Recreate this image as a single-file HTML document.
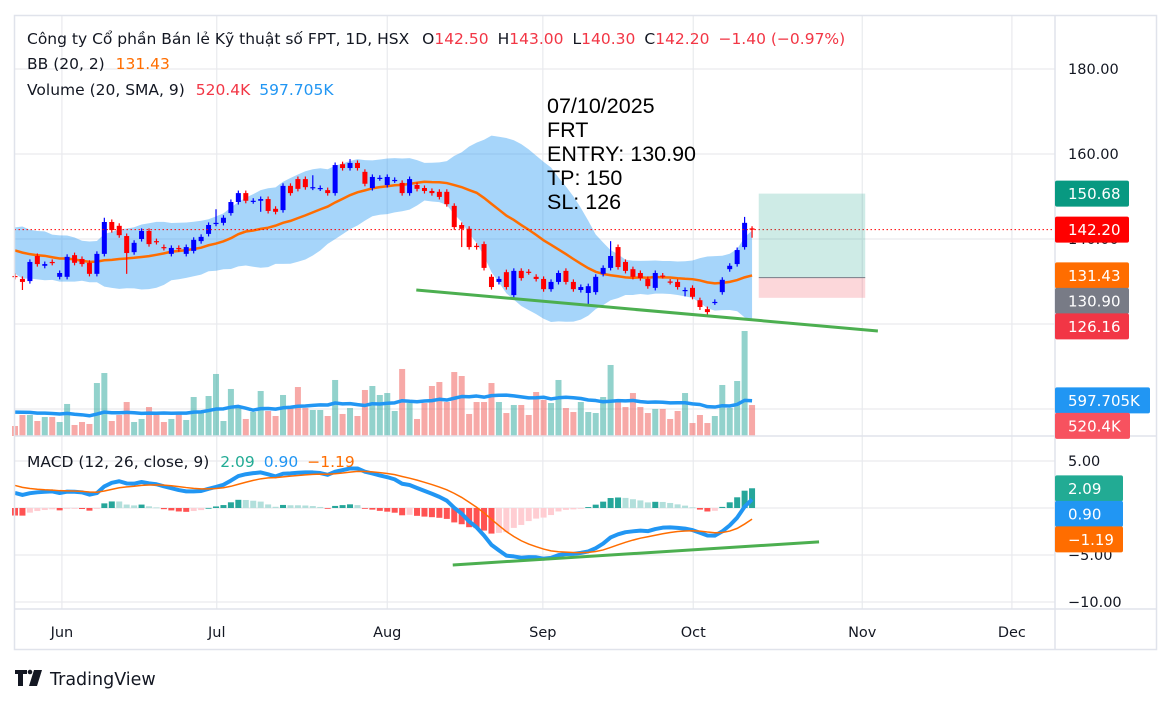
<!DOCTYPE html>
<html><head><meta charset="utf-8"><title>FRT chart</title>
<style>
html,body{margin:0;padding:0;background:#fff;}
svg{display:block;font-family:"DejaVu Sans","Liberation Sans",sans-serif;}
</style></head>
<body>
<svg id="chart" width="1172" height="704" viewBox="0 0 1172 704" xmlns="http://www.w3.org/2000/svg">
<rect x="0" y="0" width="1172" height="704" fill="#fff"/>
<g id="grid"></g>
<g id="bb"></g>
<g id="vol"></g>
<g id="candles"></g>
<g id="macd"></g>
<g id="draw"></g>
<g id="axes"></g>
<g font-size="15.5" fill="#131722">
<text x="27" y="44">Công ty Cổ phần Bán lẻ Kỹ thuật số FPT, 1D, HSX <tspan dx="8">O</tspan><tspan fill="#f23645">142.50</tspan><tspan dx="9">H</tspan><tspan fill="#f23645">143.00</tspan><tspan dx="9">L</tspan><tspan fill="#f23645">140.30</tspan><tspan dx="9">C</tspan><tspan fill="#f23645">142.20</tspan><tspan dx="9" fill="#f23645">−1.40 (−0.97%)</tspan></text>
<text x="27" y="69">BB (20, 2) <tspan dx="6" fill="#ff6d00">131.43</tspan></text>
<text x="27" y="95">Volume (20, SMA, 9) <tspan dx="6" fill="#f23645">520.4K</tspan><tspan dx="9" fill="#2196f3">597.705K</tspan></text>
<text x="27" y="467">MACD (12, 26, close, 9) <tspan dx="6" fill="#22ab94">2.09</tspan><tspan dx="9" fill="#2196f3">0.90</tspan><tspan dx="9" fill="#ff6d00">−1.19</tspan></text>
</g>
<g font-size="21.5" fill="#000" font-family="Liberation Sans, sans-serif">
<text x="547" y="113">07/10/2025</text>
<text x="547" y="137">FRT</text>
<text x="547" y="161">ENTRY: 130.90</text>
<text x="547" y="185">TP: 150</text>
<text x="547" y="209">SL: 126</text>
</g>
<g>
<path d="M15 670h12v4h-4v12h-5v-12h-3z M29 686l5-16h8l-5 16z" fill="#131722"/>
<circle cx="30" cy="672" r="2.3" fill="#131722"/>
<text x="50" y="685" font-size="17.5" fill="#131722">TradingView</text>
</g>
</svg>
<script>
const opens=[131.3,130.6,130.1,136.0,133.7,134.6,131.1,131.1,136.2,135.3,134.4,131.8,136.5,144.0,143.1,140.7,136.9,140.0,141.9,139.5,138.1,136.5,137.9,136.5,137.2,139.5,141.2,143.6,143.8,146.1,148.7,150.8,148.9,149.0,149.4,147.1,146.8,152.5,154.1,154.1,152.1,151.9,151.5,150.8,157.6,156.7,157.9,155.8,152.0,154.3,152.7,153.8,153.2,150.8,152.7,152.0,151.3,151.1,151.1,147.8,143.3,142.4,138.4,138.8,131.1,129.9,132.2,126.8,132.5,132.3,131.1,130.6,128.2,129.9,132.5,129.9,128.0,127.3,127.5,131.8,133.2,138.1,134.6,132.9,132.0,130.6,128.5,131.4,130.0,129.9,127.9,128.5,125.6,123.5,125.1,127.5,132.9,134.1,138.1,142.5];
const closes=[131.1,129.9,134.6,134.1,134.1,134.4,132.0,135.8,134.4,134.1,131.8,136.5,144.0,142.1,140.9,136.7,139.1,141.9,138.8,139.3,137.9,137.9,137.6,138.1,139.8,140.5,143.3,143.8,145.0,148.7,150.8,149.0,149.0,149.4,146.6,146.4,152.5,150.8,151.8,152.2,152.2,152.0,150.8,157.4,156.7,157.9,156.7,153.0,154.6,154.4,154.6,153.9,150.8,154.1,151.8,151.3,150.8,149.9,148.2,142.8,142.4,138.1,138.1,133.2,128.7,130.6,128.7,132.5,130.8,132.2,130.6,128.2,129.9,132.0,129.9,128.2,128.7,128.9,131.1,133.2,136.0,133.4,132.5,131.1,130.8,128.9,132.0,131.3,129.9,128.7,128.0,126.4,124.0,122.8,125.2,130.4,133.7,137.4,143.8,142.2];
const highOverrides={12:145.0,27:147.0,40:155.0,45:158.8,80:139.5,98:145.2,99:143.0};
const lowOverrides={1:128.0,15:131.8,33:146.4,60:138.1,77:124.2,90:126.5,92:123.3,99:140.3};
const volumes=[168,353,353,252,319,319,235,538,185,235,202,890,1058,252,353,571,235,286,487,370,235,286,370,269,655,403,672,1042,252,790,470,286,403,756,420,336,689,470,823,470,437,437,336,941,370,470,336,773,840,689,722,420,1126,554,286,554,840,907,571,1075,1008,370,571,571,890,571,386,521,521,353,739,605,554,941,470,403,571,403,386,655,1193,571,487,722,487,386,454,454,286,420,722,218,353,218,336,857,470,924,1764,520.4];
const priorCloses=[140,142,139,137,141,138,136,139,140,137,135,138,140,137,134,136,138,135,133];
const priorVolumes=[420,380,510,300,460,390,350,480,420,530,310,400,450,370,440,360,500,410,390];
const macdSeed=[1.6,2.4];
const monthLabels=["Jun","Jul","Aug","Sep","Oct","Nov","Dec"];
const monthBarIdx=[6.3,27.1,50.0,70.9,91.1,113.8,133.9];
const priceTicks=[180,160,140,120,100];
const macdTicks=[5,0,-5,-10];
const macdTickLabels=["5.00","","−5.00","−10.00"];
const priceTrend=[[53.9,128.0],[115.9,118.35]];
const macdTrend=[[58.8,-6.06],[108,-3.6]];
const position={start:99.9,end:114.2,entry:130.90,tp:150.68,sl:126.16};
const priceLabelVals=[150.68,142.20,131.43,130.90,126.16];
const priceLabelTxt=["150.68","142.20","131.43","130.90","126.16"];
const volLabelVals=[597.705,520.4];
const volLabelTxt=["597.705K","520.4K"];
const macdLabelVals=[2.09,0.90,-1.19];
const macdLabelTxt=["2.09","0.90","−1.19"];

const NS="http://www.w3.org/2000/svg";
function mk(tag,attrs,parent){const e=document.createElementNS(NS,tag);for(const k in attrs)e.setAttribute(k,attrs[k]);parent.appendChild(e);return e;}
const X0=15,DX=7.445,L=14.5,R=1055,T=15.5,B=609;
const xs=i=>X0+i*DX;
const py=p=>154+(160-p)*4.25;
const vy=v=>436-v/16.8;
const my=m=>508-m*9.4;
const G=document.getElementById('grid'),BBg=document.getElementById('bb'),VG=document.getElementById('vol'),CG=document.getElementById('candles'),MG=document.getElementById('macd'),DG=document.getElementById('draw'),AG=document.getElementById('axes');

monthBarIdx.forEach((b,k)=>{const l=mk('line',{x1:xs(b),x2:xs(b),y1:T,y2:B,stroke:'#e9eaee','stroke-width':1.2},G);

});
priceTicks.forEach(p=>{const l=mk('line',{x1:L,x2:R,y1:py(p),y2:py(p),stroke:'#e9eaee','stroke-width':1.2},G);

});
macdTicks.forEach(m=>{const l=mk('line',{x1:L,x2:R,y1:my(m),y2:my(m),stroke:'#e9eaee','stroke-width':1.2},G);

});

const allC=priorCloses.concat(closes),np=priorCloses.length;
const mid=[],up=[],lo=[];
for(let i=0;i<closes.length;i++){const w=allC.slice(i+np-19,i+np+1);const m=w.reduce((a,b)=>a+b,0)/w.length;const sd=Math.sqrt(w.reduce((a,b)=>a+(b-m)*(b-m),0)/w.length);mid.push(m);up.push(m+2*sd);lo.push(m-2*sd);}
let d='M'+closes.map((c,i)=>xs(i)+','+py(up[i])).join('L');
for(let i=closes.length-1;i>=0;i--)d+='L'+xs(i)+','+py(lo[i]);
const band=mk('path',{d:d+'Z',fill:'rgba(33,150,243,0.4)'},BBg);


const basis=mk('path',{d:'M'+mid.map((m,i)=>xs(i)+','+py(m)).join('L'),fill:'none',stroke:'#ff6d00','stroke-width':2.5},BBg);



volumes.forEach((v,i)=>{const upc=closes[i]>=opens[i];const r=mk('rect',{x:xs(i)-3,y:vy(v),width:6,height:436-vy(v),fill:upc?'rgba(38,166,154,0.5)':'rgba(239,83,80,0.5)'},VG);

});
const allV=priorVolumes.concat(volumes);const vs=[];
for(let i=0;i<volumes.length;i++){const w=allV.slice(i+np-19,i+np+1);vs.push(w.reduce((a,b)=>a+b,0)/w.length);}
const vsl=mk('path',{d:'M'+vs.map((v,i)=>xs(i)+','+vy(v)).join('L'),fill:'none',stroke:'#2196f3','stroke-width':3.5,'stroke-linejoin':'round'},VG);



closes.forEach((c,i)=>{const o=opens[i];const upc=c>=o;const col=upc?'#0000ff':'#ff0000';
const h=highOverrides[i]!==undefined?highOverrides[i]:Math.max(o,c)+0.6;
const l=lowOverrides[i]!==undefined?lowOverrides[i]:Math.min(o,c)-0.6;
const g=mk('g',{},CG);


mk('line',{x1:xs(i),x2:xs(i),y1:py(h),y2:py(l),stroke:col,'stroke-width':1.2},g);
const yt=py(Math.max(o,c)),yb=py(Math.min(o,c));
mk('rect',{x:xs(i)-2.5,y:yt,width:5,height:Math.max(1.2,yb-yt),fill:col},g);});

const a12=2/13,a26=2/27,a9=2/10;let e12=closes[0],e26=closes[0]-macdSeed[0],sg=macdSeed[1];
const mv=[],sv=[];
closes.forEach((c,i)=>{if(i>0){e12=c*a12+e12*(1-a12);e26=c*a26+e26*(1-a26);}const m=e12-e26;if(i>0)sg=m*a9+sg*(1-a9);mv.push(m);sv.push(sg);});
mv.forEach((m,i)=>{const h=m-sv[i];const ph=i>0?mv[i-1]-sv[i-1]:h;let col;
if(h>=0)col=h>=ph?'#26a69a':'#b2dfdb';else col=h<=ph?'#ff5252':'#ffcdd2';
const y1=my(Math.max(h,0)),y2=my(Math.min(h,0));
const r=mk('rect',{x:xs(i)-3,y:y1,width:6,height:Math.max(0.8,y2-y1),fill:col},MG);

});
const ml=mk('path',{d:'M'+mv.map((m,i)=>xs(i)+','+my(m)).join('L'),fill:'none',stroke:'#2196f3','stroke-width':4,'stroke-linejoin':'round'},MG);


const sl=mk('path',{d:'M'+sv.map((m,i)=>xs(i)+','+my(m)).join('L'),fill:'none',stroke:'#ff6d00','stroke-width':1.5},MG);



const last=closes[closes.length-1];
const pl=mk('line',{x1:L,x2:R,y1:py(last),y2:py(last),stroke:'#ff0000','stroke-width':1,'stroke-dasharray':'1.5 2.5'},DG);


const px1=xs(position.start),px2=xs(position.end);
const tpb=mk('rect',{x:px1,y:py(position.tp),width:px2-px1,height:py(position.entry)-py(position.tp),fill:'rgba(8,153,129,0.2)'},DG);


const slb=mk('rect',{x:px1,y:py(position.entry),width:px2-px1,height:py(position.sl)-py(position.entry),fill:'rgba(242,54,69,0.2)'},DG);


const el=mk('line',{x1:px1,x2:px2,y1:py(position.entry),y2:py(position.entry),stroke:'#787b86','stroke-width':1},DG);


const t1=mk('line',{x1:xs(priceTrend[0][0]),y1:py(priceTrend[0][1]),x2:xs(priceTrend[1][0]),y2:py(priceTrend[1][1]),stroke:'#4caf50','stroke-width':3},DG);


const t2=mk('line',{x1:xs(macdTrend[0][0]),y1:my(macdTrend[0][1]),x2:xs(macdTrend[1][0]),y2:my(macdTrend[1][1]),stroke:'#4caf50','stroke-width':3},DG);



const fr=mk('rect',{x:L,y:T,width:1142,height:634,fill:'none',stroke:'#e0e3eb','stroke-width':1.5},AG);


[[R,T,R,649],[L,436,1156,436],[L,B,1156,B]].forEach(s=>{const l=mk('line',{x1:s[0],y1:s[1],x2:s[2],y2:s[3],stroke:'#e0e3eb','stroke-width':1.5},AG);

});
priceTicks.slice(0,3).forEach(p=>{const t=mk('text',{x:1068,y:py(p)+5,'font-size':14.5,fill:'#131722'},AG);t.textContent=p.toFixed(2);

});
macdTicks.forEach((m,k)=>{if(!macdTickLabels[k])return;const t=mk('text',{x:1068,y:my(m)+5,'font-size':14.5,fill:'#131722'},AG);t.textContent=macdTickLabels[k];

});
monthLabels.forEach((m,k)=>{const t=mk('text',{x:xs(monthBarIdx[k]),y:637,'font-size':14.5,fill:'#131722','text-anchor':'middle'},AG);t.textContent=m;

});
function labels(vals,txt,cols,ws,yf,name){let prev=-1e9;vals.forEach((v,k)=>{let y=yf(v);if(y<prev+25.5)y=prev+25.5;prev=y;
const g=mk('g',{},AG);


mk('rect',{x:R,y:y-13,width:ws[k],height:26,rx:2,fill:cols[k]},g);
const t=mk('text',{x:R+13,y:y+5.5,'font-size':15,fill:'#fff'},g);t.textContent=txt[k];});}
labels(priceLabelVals,priceLabelTxt,['#089981','#ff0000','#ff6d00','#787b86','#f23645'],[74,74,74,74,74],py,'price-axis-label');
labels(volLabelVals,volLabelTxt,['#2196f3','#f7525f'],[95,75],vy,'volume-axis-label');
labels(macdLabelVals,macdLabelTxt,['#22ab94','#2196f3','#ff6d00'],[68,68,68],my,'macd-axis-label');
</script>
</body></html>
